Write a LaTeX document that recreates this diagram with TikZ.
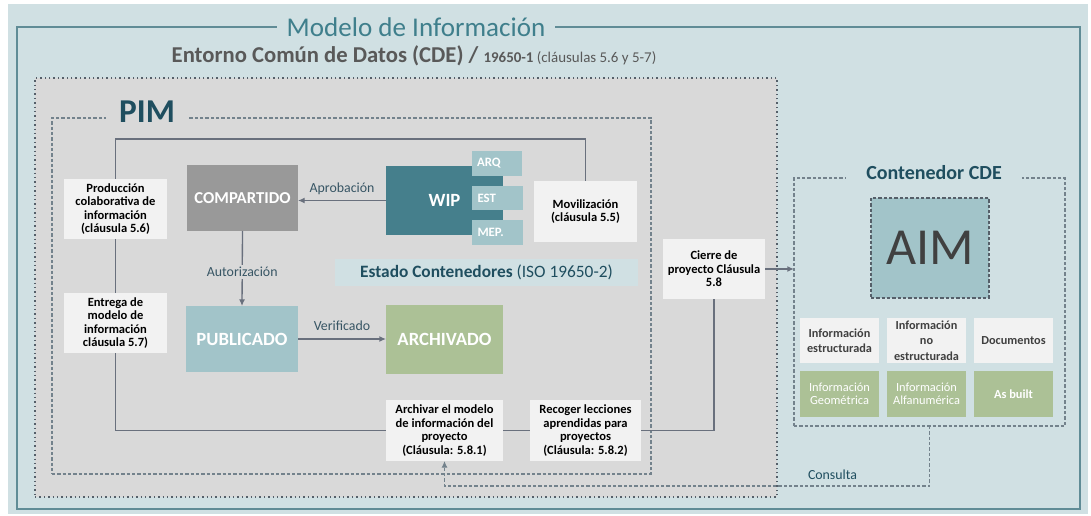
\documentclass[tikz,border=0pt]{standalone}
\usepackage{fontspec}
\setmainfont{Carlito}
\usepackage{xcolor}
\usetikzlibrary{arrows.meta, positioning, calc, fit, backgrounds}
\pgfdeclarelayer{background}
\pgfdeclarelayer{wires}
\pgfdeclarelayer{foreground}
\pgfsetlayers{background,wires,main,foreground}
\definecolor{canvasbg}{RGB}{208, 224, 227}
\definecolor{framecol}{RGB}{96, 140, 150}
\definecolor{titlecol}{RGB}{63, 127, 140}
\definecolor{subcol}{RGB}{89, 89, 89}
\definecolor{zonegray}{RGB}{217, 217, 217}
\definecolor{dotcol}{RGB}{85, 95, 105}
\definecolor{pimcol}{RGB}{31, 78, 95}
\definecolor{dashcol}{RGB}{115, 130, 140}
\definecolor{wirecol}{RGB}{105, 112, 125}
\definecolor{notebg}{RGB}{242, 242, 242}
\definecolor{sharedgray}{RGB}{153, 153, 153}
\definecolor{wipteal}{RGB}{69, 127, 140}
\definecolor{paleteal}{RGB}{162, 196, 201}
\definecolor{sage}{RGB}{172, 193, 150}
\definecolor{labelcol}{RGB}{55, 85, 100}
\definecolor{aimtext}{RGB}{64, 64, 64}
\tikzset{
  font=\fontsize{9}{10.5}\selectfont,
  baseblock/.style={
    rectangle, inner sep=0pt, outer sep=0pt, align=center
  },
  size/.style 2 args={
    anchor=north west, minimum width=#1*0.75pt, minimum height=#2*0.75pt
  },
  noteblock/.style={baseblock, fill=notebg, text=black, font=\bfseries\fontsize{9.4}{10.2}\selectfont},
  stateblock/.style={baseblock, text=white, font=\bfseries\fontsize{14}{16}\selectfont},
  tabblock/.style={baseblock, fill=paleteal, text=white, align=left, text width=30pt, font=\bfseries\fontsize{9.6}{11}\selectfont},
  infoblock/.style={baseblock, fill=notebg, text=aimtext, minimum width=59.25pt, minimum height=34pt, font=\bfseries\fontsize{9.2}{11.5}\selectfont},
  typeblock/.style={baseblock, fill=sage, text=white, minimum width=59.25pt, minimum height=34pt, font=\fontsize{9.3}{9.8}\selectfont},
  zonebox/.style={baseblock, draw=dotcol, fill=zonegray, line width=1.1pt, dash pattern=on 1.1pt off 2.2pt},
  groupbox/.style={baseblock, draw=dashcol, line width=0.8pt, dash pattern=on 2.5pt off 1.5pt},
  flowline/.style={
    draw=wirecol, -{Latex[length=5pt, width=4.5pt]}, line width=1pt
  },
  loopline/.style={draw=wirecol, line width=1.1pt},
  consultline/.style={
    draw=dashcol, -{Latex[length=5pt, width=4.5pt]}, line width=0.8pt, dash pattern=on 2.5pt off 1.5pt
  },
  arrowlabel/.style={text=labelcol, inner sep=1.5pt, font=\fontsize{10.4}{12}\selectfont}
}
\begin{document}
\begin{tikzpicture}[x=0.75pt, y=-0.75pt]
  \useasboundingbox (0,0) rectangle (1091,516);

  % Frames and zones
  \begin{scope}[on background layer]
    \node[baseblock, fill=canvasbg, fit={(8,4) (1088,514)}] (canvas) {};
    \node[baseblock, draw=framecol, line width=1.5pt, fit={(17,27) (1080,509)}] (outerframe) {};
    \node[zonebox, fit={(35,78) (777,497)}] (cdezone) {};
    \node[groupbox, fit={(52,118) (651,474)}] (pimzone) {};
    \node[groupbox, fit={(794,178) (1065,426)}] (cdecontainer) {};
  \end{scope}

  % Titles
  \node[fill=canvasbg, inner xsep=7pt, inner ysep=2pt, text=titlecol, font=\fontsize{20.3}{22}\selectfont] (maintitle) at (416,27) {Modelo de Información};
  \node[text=subcol, font=\bfseries\fontsize{17}{19}\selectfont] (subtitle) at (414,56) {Entorno Común de Datos (CDE) / {\fontsize{11.2}{13}\selectfont 19650-1 \mdseries(cláusulas 5.6 y 5-7)}};
  \node[fill=zonegray, inner xsep=10pt, inner ysep=1pt, text=pimcol, font=\bfseries\fontsize{25}{26}\selectfont] (pimlabel) at (147,112) {PIM};
  \node[fill=canvasbg, inner xsep=15pt, inner ysep=2pt, text=pimcol, font=\bfseries\fontsize{15}{17}\selectfont] (contlabel) at (934,173) {Contenedor CDE};

  % Process notes
  \node[noteblock, size={103}{60}] (prod) at (64,179) {Producción\\colaborativa de\\información\\(cláusula 5.6)};
  \node[noteblock, size={103}{60}] (entrega) at (64,293) {Entrega de\\modelo de\\información\\cláusula 5.7)};
  \node[noteblock, size={103}{61}] (movil) at (534,181) {Movilización\\(cláusula 5.5)};
  \node[noteblock, size={102}{60}] (cierre) at (663,239) {Cierre de\\proyecto Cláusula\\5.8};
  \node[noteblock, size={117}{61}] (archivar) at (386,400) {Archivar el modelo\\de información del\\proyecto\\(Cláusula: 5.8.1)};
  \node[noteblock, size={111}{61}] (recoger) at (530,400) {Recoger lecciones\\aprendidas para\\proyectos\\(Cláusula: 5.8.2)};

  % Container states
  \node[stateblock, fill=sharedgray, font=\bfseries\fontsize{12.5}{14}\selectfont, size={111}{66}] (compartido) at (187,165) {COMPARTIDO};
  \node[stateblock, fill=wipteal, size={117}{69}] (wip) at (386,166) {WIP};
  \node[tabblock, size={50}{25}] (tabarq) at (472,151) {ARQ};
  \node[tabblock, size={51}{24}] (tabest) at (472,186) {EST};
  \node[tabblock, size={51}{25}] (tabmep) at (472,220) {MEP.};
  \node[stateblock, fill=paleteal, size={112}{66}] (publicado) at (186,306) {PUBLICADO};
  \node[stateblock, fill=sage, size={117}{69}] (archivado) at (386,305) {ARCHIVADO};
  \node[baseblock, fill=canvasbg, text=pimcol, font=\fontsize{13}{15}\selectfont, size={303}{27}] (estado) at (335,259) {\textbf{Estado Contenedores} (ISO 19650-2)};

  % Contenedor CDE
  \node[baseblock, fill=paleteal, draw=dotcol, line width=0.8pt, dash pattern=on 2.5pt off 1.5pt, text=aimtext, font=\fontsize{39}{40}\selectfont, size={118}{100}] (aim) at (871,198) {AIM};
  \node[infoblock, anchor=north west] (estruct) at (800,318) {Información\\estructurada};
  \node[infoblock, right=6pt of estruct] (noestruct) {Información\\no\\estructurada};
  \node[infoblock, right=6pt of noestruct] (docs) {Documentos};
  \node[typeblock, below=6pt of estruct] (geom) {Información\\Geométrica};
  \node[typeblock, below=6pt of noestruct] (alfa) {Información\\Alfanumérica};
  \node[typeblock, below=6pt of docs, font=\bfseries\fontsize{9.3}{9.8}\selectfont] (asbuilt) {As built};

  % Project cycle
  \begin{pgfonlayer}{wires}
    \draw[loopline] (movil.north) -- ++(0,-42) -| (prod.north);
    \draw[loopline] (prod.south) -- (entrega.north);
    \draw[loopline] (entrega.south) |- (recoger.east) -| (cierre.south);
  \end{pgfonlayer}

  % Flows
  \draw[flowline] (wip.west) -- node[above=2pt, arrowlabel] {Aprobación} (wip.west -| compartido.east);
  \draw[flowline] (compartido.south) -- node[pos=0.55, fill=zonegray, arrowlabel] {Autorización} (publicado.north);
  \draw[flowline] (publicado.east) -- node[above=4pt, arrowlabel] {Verificado} (publicado.east -| archivado.west);
  \draw[flowline] (cierre.east) -- (cierre.east -| cdecontainer.west);
  \draw[consultline] (cdecontainer.south) -- ++(0,60) -| node[pos=0.1, above=3pt, arrowlabel, text=pimcol] {Consulta} (archivar.south);

\end{tikzpicture}
\end{document}
